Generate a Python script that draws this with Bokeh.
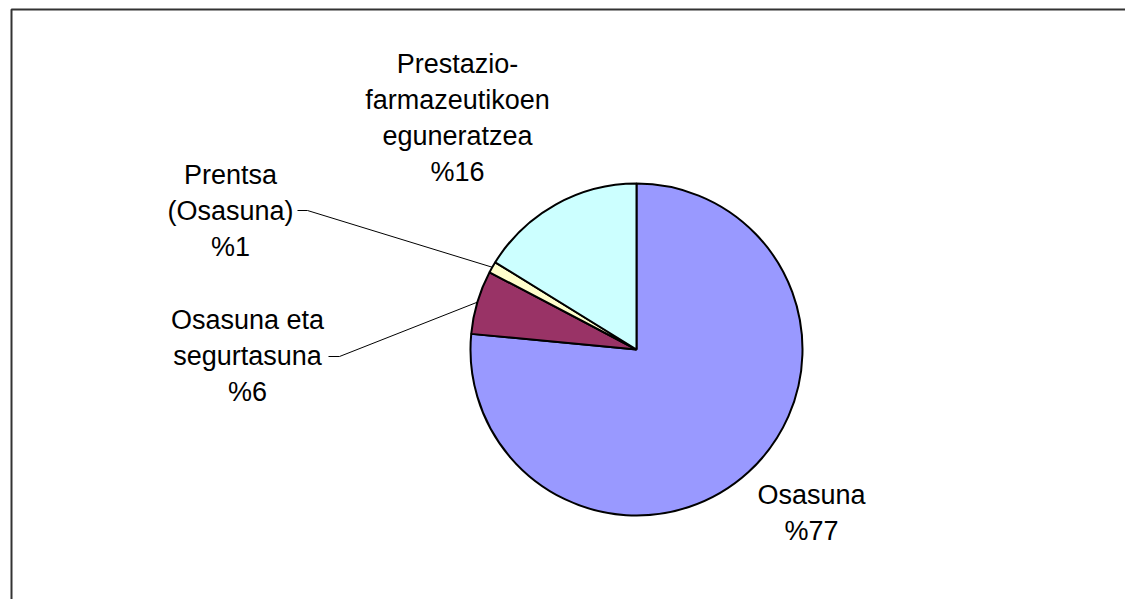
import math
from bokeh.plotting import figure
from bokeh.models import Range1d, ColumnDataSource
from bokeh.core.properties import value
from bokeh.embed import file_html
from bokeh.resources import INLINE

# ---- data ----
categories = ["Osasuna", "Osasuna eta segurtasuna", "Prentsa (Osasuna)", "Prestazio-farmazeutikoen eguneratzea"]
shares = [76.5, 6.2, 1.1, 16.2]
pct_labels = ["%77", "%6", "%1", "%16"]
label_texts = ["Osasuna\n%77", "Osasuna eta\nsegurtasuna\n%6", "Prentsa\n(Osasuna)\n%1",
               "Prestazio-\nfarmazeutikoen\neguneratzea\n%16"]
colors = ["#9999FF", "#993366", "#FFFFCC", "#CCFFFF"]

W, H = 1125, 599
def py(y_img):
    return H - y_img

p = figure(width=W, height=H, output_backend="svg", toolbar_location=None,
           x_range=Range1d(0, W), y_range=Range1d(0, H), min_border=0)
p.axis.visible = False
p.grid.visible = False
p.outline_line_color = None
p.background_fill_color = "white"
p.border_fill_color = "white"

# frame (top and left edges visible)
p.line([11, 11, 1140], [-20, py(9), py(9)], line_color="#333333", line_width=2)

cx, cy, r = 636, py(349), 166
total = sum(shares)
starts, ends, mids = [], [], []
c = 0.0
for s in shares:
    c0 = c / total
    c1 = (c + s) / total
    starts.append(math.pi / 2 - 2 * math.pi * c1)
    ends.append(math.pi / 2 - 2 * math.pi * c0)
    mids.append(math.pi / 2 - 2 * math.pi * (c0 + c1) / 2)
    c += s

src = ColumnDataSource(dict(start=starts, end=ends, color=colors, cat=categories))
p.wedge(x=cx, y=cy, radius=r, start_angle="start", end_angle="end",
        fill_color="color", line_color="black", line_width=2, source=src)

# labels
lab_x = [811, 247, 230, 457]
lab_y = [py(512), py(355), py(210), py(117)]
p.text(x=lab_x, y=lab_y, text=label_texts, text_align="center", text_baseline="middle",
       text_font=value("Liberation Sans"), text_font_size="27px", text_color="black",
       text_line_height=1.2)

# leader lines
def edge(i):
    return cx + r * math.cos(mids[i]), cy + r * math.sin(mids[i])

ex, ey = edge(2)
p.line([297, 307, ex], [py(210), py(210), ey], line_color="black", line_width=1)
ex, ey = edge(1)
p.line([328, 339, ex], [py(356), py(356), ey], line_color="black", line_width=1)

open("out.html", "w").write(file_html(p, INLINE))
